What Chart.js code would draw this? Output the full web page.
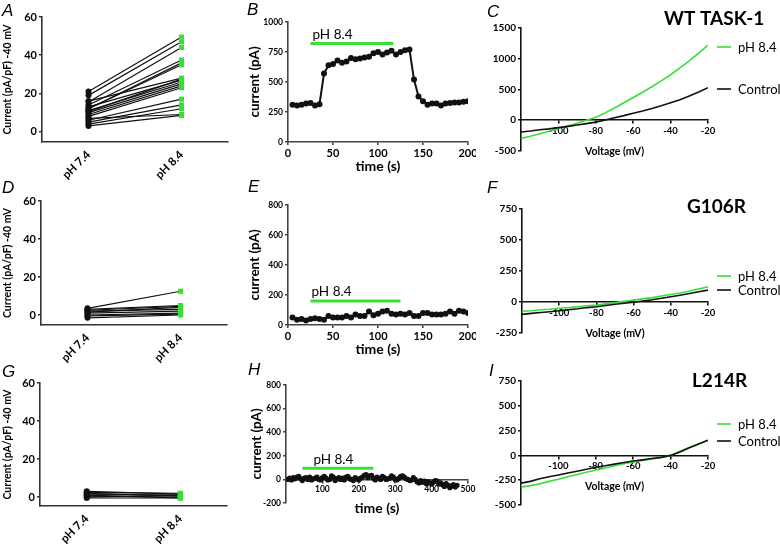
<!DOCTYPE html>
<html>
<head>
<meta charset="utf-8">
<script src="https://cdn.jsdelivr.net/npm/chart.js@4.4.1/dist/chart.umd.min.js"></script>
<style>
  body { margin: 0; background: #fff; width: 780px; height: 544px; position: relative; overflow: hidden; }
  canvas { position: absolute; }
</style>
</head>
<body>
<canvas id="chartA" width="236" height="180" style="left:0;top:0"></canvas>
<canvas id="chartB" width="244" height="180" style="left:232px;top:0"></canvas>
<canvas id="chartC" width="296" height="180" style="left:484px;top:0"></canvas>
<canvas id="chartD" width="236" height="188" style="left:0;top:178px"></canvas>
<canvas id="chartE" width="244" height="182" style="left:232px;top:178px"></canvas>
<canvas id="chartF" width="296" height="182" style="left:484px;top:178px"></canvas>
<canvas id="chartG" width="236" height="186" style="left:0;top:358px"></canvas>
<canvas id="chartH" width="244" height="186" style="left:232px;top:358px"></canvas>
<canvas id="chartI" width="296" height="186" style="left:484px;top:358px"></canvas>
<script>
// ---- data ----
const phLabels = ["pH 7.4", "pH 8.4"];

// current density at -40 mV (pA/pF), paired per cell
const wtPh74 = [21, 19, 15.5, 14, 12, 16, 13, 11, 10, 9, 8, 12, 6, 5, 4, 7, 3, 10.5];
const wtPh84 = [49.5, 47, 44, 37.5, 36, 28, 27, 26, 25, 24, 23, 35, 17, 14, 12, 9, 8.5, 27.5];
const g106Ph74 = [3.5, 3, 2.5, 2, 1.5, 1, 0, -0.5, -1.5];
const g106Ph84 = [12.5, 5, 4.5, 3, 4, 2, 1, 0.5, 0];
const l214Ph74 = [3, 2.5, 2, 1.5, 1, 0.5, 0, -0.5];
const l214Ph84 = [1.5, 2, 0.5, 1, -0.5, 0, 1, -0.5];

// time courses (s, pA)
const wtTime = [5, 10, 15, 20, 25, 30, 35, 40, 45, 50, 55, 60, 65, 70, 75, 80, 85, 90, 95, 100,
  105, 110, 115, 120, 125, 130, 135, 140, 145, 150, 155, 160, 165, 170, 175, 180, 185, 190, 195, 200];
const wtCurrent = [310, 305, 310, 320, 325, 305, 315, 570, 640, 650, 680, 660, 670, 700, 690, 695, 705, 710, 740, 750,
  730, 745, 760, 730, 750, 765, 770, 520, 380, 340, 310, 320, 320, 305, 320, 325, 330, 330, 335, 340];
const g106Time = [5, 10, 15, 20, 25, 30, 35, 40, 45, 50, 55, 60, 65, 70, 75, 80, 85, 90, 95, 100,
  105, 110, 115, 120, 125, 130, 135, 140, 145, 150, 155, 160, 165, 170, 175, 180, 185, 190, 195, 200];
const g106Current = [50, 35, 40, 30, 40, 45, 40, 35, 60, 50, 50, 50, 60, 50, 70, 60, 60, 90, 65, 75,
  90, 95, 75, 70, 75, 70, 80, 60, 60, 80, 80, 70, 70, 70, 75, 90, 75, 95, 90, 80];
const l214Time = [5, 10, 15, 20, 25, 30, 35, 40, 45, 50,
  55, 60, 65, 70, 75, 80, 85, 90, 95, 100,
  105, 110, 115, 120, 125, 130, 135, 140, 145, 150,
  155, 160, 165, 170, 175, 180, 185, 190, 195, 200,
  205, 210, 215, 220, 225, 230, 235, 240, 245, 250,
  255, 260, 265, 270, 275, 280, 285, 290, 295, 300,
  305, 310, 315, 320, 325, 330, 335, 340, 345, 350,
  355, 360, 365, 370, 375, 380, 385, 390, 395, 400,
  405, 410, 415, 420, 425, 430, 435, 440, 445, 450,
  455, 460, 465, 470];
const l214Current = [0, 10, -5, 15, 5, 20, 25, 5, -10, 10,
  15, 0, 20, -5, 5, 10, 20, 0, -5, 15,
  25, 10, -5, 0, 30, 20, -10, 5, 15, 0,
  10, -5, 20, 25, 5, 0, -10, 15, 5, -5,
  10, 20, 35, 40, 15, 30, 35, 10, -5, 20,
  10, 0, 25, 15, 0, 5, 10, 30, 20, 0,
  -5, 10, 25, 30, 20, 5, 0, -10, -5, 15,
  0, -20, -30, -10, -25, -15, -35, -20, -30, -40,
  -25, -10, -15, -40, -30, -45, -60, -35, -50, -70,
  -55, -45, -65, -50];

// pH 8.4 application: [start, end] in s, and the level the bar is drawn at
const wtBar = [25, 117];
const wtBarLevel = 820;
const g106Bar = [25, 125];
const g106BarLevel = 160;
const l214Bar = [45, 240];
const l214BarLevel = 95;

// current-voltage relations (mV, pA)
const voltage = [-120, -115, -110, -105, -100, -95, -90, -85, -80, -75, -70,
  -65, -60, -55, -50, -45, -40, -35, -30, -25, -20];
const wtControl = [-190, -175, -155, -140, -120, -100, -78, -55, -30, 5, 40, 75, 115, 150, 190, 235, 285, 335, 395, 460, 530];
const wtAlkaline = [-295, -260, -220, -180, -135, -95, -50, 0, 50, 120, 200, 285, 370, 455, 545, 640, 740, 850, 965, 1090, 1220];
const g106Control = [-100, -92, -85, -78, -70, -62, -55, -45, -38, -28, -18, -10, -2, 8, 18, 30, 42, 55, 68, 82, 96];
const g106Alkaline = [-75, -70, -63, -58, -50, -45, -38, -30, -24, -15, -5, 5, 15, 25, 35, 48, 60, 72, 88, 105, 122];
const l214Control = [-280, -262, -235, -215, -197, -178, -160, -140, -120, -105, -88, -72, -57, -45, -32, -20, 0, 35, 78, 115, 153];
const l214Alkaline = [-320, -305, -287, -262, -240, -215, -192, -170, -147, -127, -105, -85, -67, -50, -36, -22, 0, 42, 80, 115, 153];

// tick labels
const densityTicks = [0, 20, 40, 60];
const wtTimeTicks = [0, 50, 100, 150, 200];
const wtCurrentTicks = [0, 250, 500, 750, 1000];
const g106CurrentTicks = [0, 200, 400, 600, 800];
const l214TimeTicks = [100, 200, 300, 400, 500];
const l214CurrentTicks = [-200, 0, 200, 400, 600, 800];
const voltageTicks = [-100, -80, -60, -40, -20];
const wtIvTicks = [-500, 0, 500, 1000, 1500];
const g106IvTicks = [-250, 0, 250, 500, 750];
const l214IvTicks = [-500, -250, 0, 250, 500, 750];

// ---- styling ----
const FONT = "Lato, 'Open Sans', sans-serif";
const GREEN = "#36e036";
const INK = "#111";

Chart.defaults.font.family = FONT;
Chart.defaults.color = "#000";

// page boxes of each canvas and of its plot area: [left, top, width, height] / [left, top, right, bottom]
const panels = {
  A: { box: [0, 0, 236, 180], area: [42, 17, 228, 142], letter: ["A", 2, 16] },
  B: { box: [232, 0, 244, 180], area: [288, 22, 468, 142], letter: ["B", 247, 15] },
  C: { box: [484, 0, 296, 180], area: [521, 28, 708, 151], letter: ["C", 487, 17], title: ["WT TASK-1", 664, 19], legendY: [47, 89] },
  D: { box: [0, 178, 236, 188], area: [41, 201, 227, 325], letter: ["D", 2, 193] },
  E: { box: [232, 178, 244, 182], area: [288, 205, 468, 325], letter: ["E", 248, 192] },
  F: { box: [484, 178, 296, 182], area: [522, 209, 708, 333], letter: ["F", 487, 193], title: ["G106R", 687, 207], legendY: [276, 290] },
  G: { box: [0, 358, 236, 186], area: [40, 383, 227, 506], letter: ["G", 2, 377] },
  H: { box: [232, 358, 244, 186], area: [286, 385, 468, 503], letter: ["H", 248, 375] },
  I: { box: [484, 358, 296, 186], area: [521, 381, 708, 505], letter: ["I", 489, 376], title: ["L214R", 692, 381], legendY: [424, 441] },
};

function useTicks(values) {
  return (scale) => { scale.ticks = values.map((v) => ({ value: v })); };
}

function plain(value) {
  return String(value);
}

function axisBase(tickSize, lineColor) {
  return {
    border: { color: lineColor, width: 1.6 },
    grid: { drawOnChartArea: false, color: lineColor, lineWidth: 1.6, tickLength: 3 },
    ticks: { color: "#000", font: { size: tickSize, weight: "bold" }, padding: 2, autoSkip: false, maxRotation: 0 },
  };
}

function yAxis(p, min, max, ticks, tickSize, title, titlePad, lineColor) {
  const axis = axisBase(tickSize, lineColor);
  axis.ticks.callback = plain;
  return Object.assign(axis, {
    min, max,
    afterBuildTicks: useTicks(ticks),
    afterFit: (s) => { s.width = p.area[0] - p.box[0]; s.paddingTop = 0; s.paddingBottom = 0; },
    title: {
      display: true, text: title.text, color: "#000",
      font: { size: title.size, weight: "bold" }, padding: { top: titlePad, bottom: 0 },
    },
  });
}

function layoutFor(p, centeredX) {
  const bottom = p.box[1] + p.box[3];
  return {
    padding: {
      left: 0,
      top: p.area[1] - p.box[1],
      right: p.box[0] + p.box[2] - p.area[2],
      bottom: centeredX ? bottom - p.area[3] : 0,
    },
  };
}

const annotate = {
  id: "annotate",
  afterDraw(chart, args, opts) {
    const ctx = chart.ctx;
    const p = opts.panel;
    const ox = p.box[0], oy = p.box[1];
    ctx.save();
    ctx.fillStyle = "#000";
    ctx.textBaseline = "alphabetic";
    ctx.font = "italic 17px 'Liberation Sans', Arial, sans-serif";
    ctx.fillText(p.letter[0], p.letter[1] - ox, p.letter[2] - oy);

    ctx.textBaseline = "middle";
    if (p.title) {
      ctx.font = "bold 19px " + FONT;
      ctx.fillText(p.title[0], p.title[1] - ox, p.title[2] - oy);
    }
    if (opts.barLabel) {
      const xs = chart.scales.x, ys = chart.scales.y;
      ctx.font = "13.5px " + FONT;
      ctx.fillText(opts.barLabel.text,
        xs.getPixelForValue(opts.barLabel.x) + opts.barLabel.dx,
        ys.getPixelForValue(opts.barLabel.y) - 9);
    }
    if (p.legendY) {
      ctx.font = "13px " + FONT;
      // legend rows: pH 8.4 first, Control second
      const rows = [chart.data.datasets[1], chart.data.datasets[0]];
      rows.forEach((ds, i) => {
        const y = p.legendY[i] - oy;
        ctx.strokeStyle = ds.borderColor;
        ctx.lineWidth = 1.6;
        ctx.beginPath();
        ctx.moveTo(717 - ox, y);
        ctx.lineTo(731 - ox, y);
        ctx.stroke();
        ctx.fillText(ds.label, 738 - ox, y + 1);
      });
    }
    ctx.restore();
  },
};

function pairedChart(id, p, ph74, ph84, yMin) {
  const datasets = ph74.map((v, i) => ({
    data: [v, ph84[i]],
    borderColor: INK,
    borderWidth: 1.2,
    pointStyle: ["circle", "rect"],
    pointRadius: [3, 3.6],
    pointBackgroundColor: [INK, GREEN],
    pointBorderColor: [INK, GREEN],
    pointBorderWidth: 0,
  }));
  const xAxis = axisBase(11.5, "#333");
  xAxis.grid.drawTicks = false;
  xAxis.ticks.padding = 6;
  xAxis.ticks.minRotation = 45;
  xAxis.ticks.maxRotation = 45;
  xAxis.afterFit = (s) => { s.height = p.box[1] + p.box[3] - p.area[3]; s.paddingLeft = 0; s.paddingRight = 0; };

  new Chart(document.getElementById(id), {
    type: "line",
    data: { labels: phLabels, datasets },
    options: {
      responsive: false,
      animation: false,
      layout: layoutFor(p, false),
      plugins: { legend: { display: false }, tooltip: { enabled: false }, annotate: { panel: p } },
      scales: {
        x: Object.assign(xAxis, { type: "category", offset: true }),
        y: yAxis(p, yMin, 60, densityTicks, 11,
          { text: "Current (pA/pF) -40 mV", size: 10.5 }, 1, "#333"),
      },
    },
    plugins: [annotate],
  });
}

function timeChart(id, p, cfg) {
  const xAxis = axisBase(cfg.xTickSize, "#444");
  xAxis.ticks.callback = plain;
  Object.assign(xAxis, {
    type: "linear",
    min: cfg.xRange[0], max: cfg.xRange[1],
    afterBuildTicks: useTicks(cfg.xTicks),
    title: {
      display: true, text: "time (s)", color: "#000",
      font: { size: 14, weight: "bold" }, padding: { top: 0, bottom: cfg.xTitlePad },
    },
  });
  if (cfg.centered) {
    xAxis.position = { y: 0 };
    xAxis.afterFit = (s) => { s.height = 39; s.paddingLeft = 0; s.paddingRight = 0; };
  } else {
    xAxis.afterFit = (s) => { s.height = p.box[1] + p.box[3] - p.area[3]; s.paddingLeft = 0; s.paddingRight = 0; };
  }

  new Chart(document.getElementById(id), {
    type: "line",
    data: {
      datasets: [
        {
          data: cfg.time.map((t, i) => ({ x: t, y: cfg.current[i] })),
          borderColor: INK, borderWidth: 2,
          pointRadius: cfg.pointRadius, pointBackgroundColor: INK, pointBorderWidth: 0,
        },
        {
          data: [{ x: cfg.bar[0], y: cfg.barLevel }, { x: cfg.bar[1], y: cfg.barLevel }],
          borderColor: GREEN, borderWidth: 3, pointRadius: 0,
        },
      ],
    },
    options: {
      responsive: false,
      animation: false,
      layout: layoutFor(p, cfg.centered),
      plugins: {
        legend: { display: false },
        tooltip: { enabled: false },
        annotate: { panel: p, barLabel: { text: "pH 8.4", x: cfg.bar[0], y: cfg.barLevel, dx: cfg.labelDx } },
      },
      scales: {
        x: xAxis,
        y: yAxis(p, cfg.yRange[0], cfg.yRange[1], cfg.yTicks, 8.5,
          { text: "current (pA)", size: 13.5 }, cfg.yTitlePad, "#444"),
      },
    },
    plugins: [annotate],
  });
}

function ivChart(id, p, control, alkaline, yTicks, yRange) {
  const xAxis = axisBase(9.5, "#111");
  xAxis.ticks.callback = plain;
  Object.assign(xAxis, {
    type: "linear",
    min: -120, max: -20,
    position: { y: 0 },
    afterBuildTicks: useTicks(voltageTicks),
    afterFit: (s) => { s.height = 41; s.paddingLeft = 0; s.paddingRight = 0; },
    title: {
      display: true, text: "Voltage (mV)", color: "#000",
      font: { size: 10.5, weight: "bold" }, padding: { top: 0, bottom: 3 },
    },
  });

  const yA = axisBase(10, "#111");
  yA.ticks.callback = plain;
  Object.assign(yA, {
    min: yRange[0], max: yRange[1],
    afterBuildTicks: useTicks(yTicks),
    afterFit: (s) => { s.width = p.area[0] - p.box[0]; s.paddingTop = 0; s.paddingBottom = 0; },
  });

  new Chart(document.getElementById(id), {
    type: "line",
    data: {
      datasets: [
        {
          label: "Control",
          data: voltage.map((v, i) => ({ x: v, y: control[i] })),
          borderColor: INK, borderWidth: 1.6, pointRadius: 0,
        },
        {
          label: "pH 8.4",
          data: voltage.map((v, i) => ({ x: v, y: alkaline[i] })),
          borderColor: GREEN, borderWidth: 1.6, pointRadius: 0,
        },
      ],
    },
    options: {
      responsive: false,
      animation: false,
      layout: layoutFor(p, true),
      plugins: { legend: { display: false }, tooltip: { enabled: false }, annotate: { panel: p } },
      scales: { x: xAxis, y: yA },
    },
    plugins: [annotate],
  });
}

// ---- row 1: WT TASK-1 ----
pairedChart("chartA", panels.A, wtPh74, wtPh84, -5.4);
timeChart("chartB", panels.B, {
  time: wtTime, current: wtCurrent, bar: wtBar, barLevel: wtBarLevel,
  xRange: [0, 200], xTicks: wtTimeTicks, yRange: [0, 1000], yTicks: wtCurrentTicks,
  xTickSize: 11, xTitlePad: 5, yTitlePad: 15, pointRadius: 3, labelDx: 2, centered: false,
});
ivChart("chartC", panels.C, wtControl, wtAlkaline, wtIvTicks, [-500, 1500]);

// ---- row 2: G106R ----
pairedChart("chartD", panels.D, g106Ph74, g106Ph84, -5.25);
timeChart("chartE", panels.E, {
  time: g106Time, current: g106Current, bar: g106Bar, barLevel: g106BarLevel,
  xRange: [0, 200], xTicks: wtTimeTicks, yRange: [0, 800], yTicks: g106CurrentTicks,
  xTickSize: 11, xTitlePad: 2, yTitlePad: 15, pointRadius: 3, labelDx: 1, centered: false,
});
ivChart("chartF", panels.F, g106Control, g106Alkaline, g106IvTicks, [-250, 750]);

// ---- row 3: L214R ----
pairedChart("chartG", panels.G, l214Ph74, l214Ph84, -4.7);
timeChart("chartH", panels.H, {
  time: l214Time, current: l214Current, bar: l214Bar, barLevel: l214BarLevel,
  xRange: [0, 500], xTicks: l214TimeTicks, yRange: [-200, 800], yTicks: l214CurrentTicks,
  xTickSize: 8.5, xTitlePad: 2, yTitlePad: 17, pointRadius: 2.6, labelDx: 11, centered: true,
});
ivChart("chartI", panels.I, l214Control, l214Alkaline, l214IvTicks, [-500, 750]);
</script>
</body>
</html>
